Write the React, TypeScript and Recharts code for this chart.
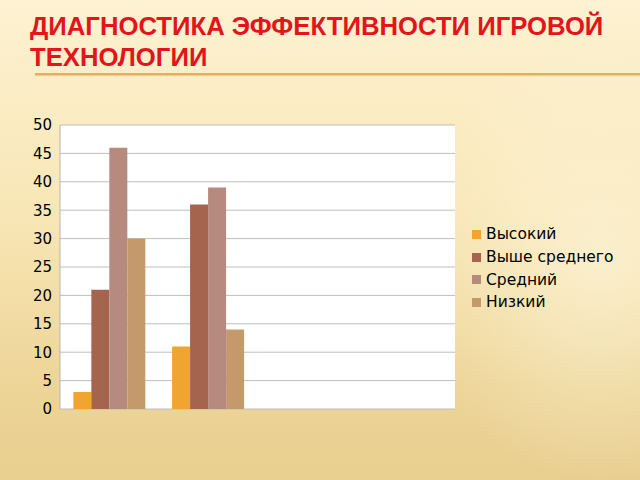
import { Bar, BarChart, CartesianGrid, XAxis, YAxis } from "recharts";

const TITLE = "ДИАГНОСТИКА ЭФФЕКТИВНОСТИ ИГРОВОЙ ТЕХНОЛОГИИ";

const CATEGORIES = ["1", "2", "3", "4"];
const HIGH = [3, 11, null, null];
const ABOVE_AVG = [21, 36, null, null];
const AVG = [46, 39, null, null];
const LOW = [30, 14, null, null];
const Y_TICKS = [0, 5, 10, 15, 20, 25, 30, 35, 40, 45, 50];

const SERIES = [
  { key: "high", name: "Высокий", color: "#EFA530" },
  { key: "above", name: "Выше среднего", color: "#A5644E" },
  { key: "avg", name: "Средний", color: "#B78A80" },
  { key: "low", name: "Низкий", color: "#C49A6C" },
];

const data = CATEGORIES.map((c, i) => ({
  name: c,
  high: HIGH[i],
  above: ABOVE_AVG[i],
  avg: AVG[i],
  low: LOW[i],
}));

const FONT = "'DejaVu Sans', sans-serif";

function LegendBox() {
  return (
    <div style={{ fontFamily: FONT, fontSize: 15.5, color: "#000" }}>
      {SERIES.map((s) => (
        <div key={s.key} style={{ display: "flex", alignItems: "center", height: 22.7 }}>
          <span style={{ width: 9, height: 9, background: s.color, marginRight: 5, display: "inline-block" }} />
          <span>{s.name}</span>
        </div>
      ))}
    </div>
  );
}

export default function App() {
  return (
    <div
      style={{
        position: "absolute",
        left: 0,
        top: 0,
        width: 640,
        height: 480,
        overflow: "hidden",
        background:
          "radial-gradient(ellipse 260px 320px at 600px 260px, rgba(255,250,230,0.55), rgba(255,250,230,0) 70%), linear-gradient(180deg, #FDF2D2 0%, #F8E6B5 45%, #EDD598 80%, #E8CF90 100%)",
      }}
    >
      <div
        style={{
          position: "absolute",
          left: 30,
          top: 11,
          width: 610,
          fontFamily: "'Liberation Sans', Arial, sans-serif",
          fontWeight: "bold",
          fontSize: 25.7,
          lineHeight: "31px",
          color: "#E3141B",
        }}
      >
        {TITLE}
      </div>
      <div
        style={{
          position: "absolute",
          left: 35,
          top: 73,
          width: 605,
          height: 2,
          background: "#E4B055",
          boxShadow: "0 1px 1px rgba(180,140,60,0.35)",
        }}
      />
      <div style={{ position: "absolute", left: 0, top: 0 }}>
        <BarChart
          width={640}
          height={480}
          data={data}
          margin={{ top: 125, right: 185, bottom: 71, left: 0 }}
          barCategoryGap="13.5%"
          barGap={0}
        >
          <CartesianGrid vertical={false} stroke="#BEBEBE" fill="#FFFFFF" fillOpacity={1} />
          <XAxis dataKey="name" hide />
          <YAxis
            width={60}
            domain={[0, 50]}
            ticks={Y_TICKS}
            interval={0}
            tickLine={false}
            axisLine={{ stroke: "#B5B5B5" }}
            tick={{ fontSize: 15, fill: "#000", fontFamily: FONT }}
          />
          {SERIES.map((s) => (
            <Bar key={s.key} dataKey={s.key} name={s.name} fill={s.color} isAnimationActive={false} />
          ))}
        </BarChart>
      </div>
      <div style={{ position: "absolute", left: 472, top: 223 }}>
        <LegendBox />
      </div>
    </div>
  );
}
